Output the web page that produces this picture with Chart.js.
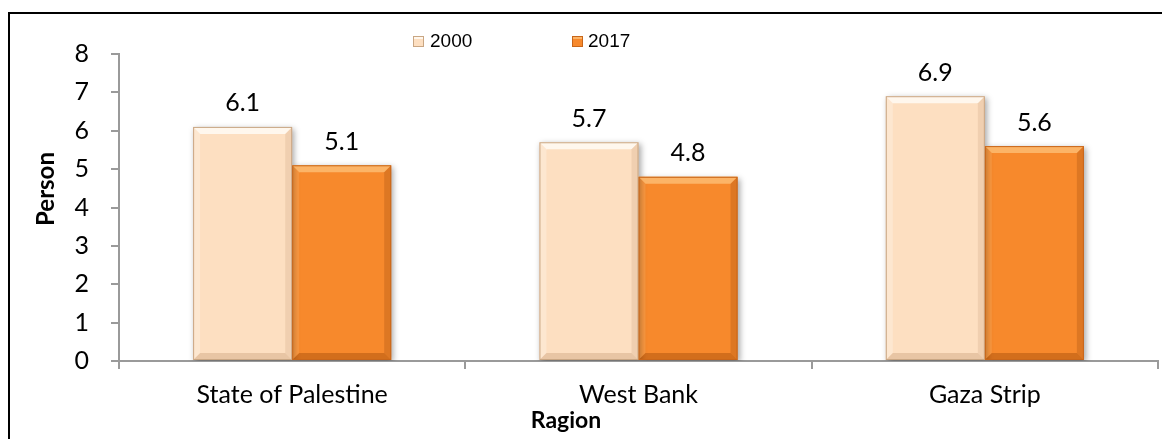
<!DOCTYPE html>
<html>
<head>
<meta charset="utf-8">
<script src="https://cdn.jsdelivr.net/npm/chart.js@4.4.1/dist/chart.umd.min.js"></script>
<style>
  html, body { margin: 0; padding: 0; background: #ffffff; }
  #wrap { width: 1162px; height: 439px; position: relative; }
</style>
</head>
<body>
<div id="wrap"><canvas id="c" width="1162" height="439"></canvas></div>
<script>
const categories = ['State of Palestine', 'West Bank', 'Gaza Strip'];
const seriesLabels = ['2000', '2017'];
const values2000 = [6.1, 5.7, 6.9];
const values2017 = [5.1, 4.8, 5.6];
const yMin = 0, yMax = 8, yStep = 1;
const xTitle = 'Ragion';
const yTitle = 'Person';

const fillColors = ['#FDDFC1', '#F7892C'];
const edgeColors = ['#C9A683', '#C8661A'];
const topBevel = ['rgba(255,250,242,0.9)', 'rgba(252,185,110,0.9)'];
const bottomBevel = ['rgba(170,120,80,0.25)', 'rgba(140,60,0,0.35)'];
const sideLight = ['rgba(255,255,255,0.25)', 'rgba(255,190,120,0.25)'];
const sideDark = ['rgba(150,100,60,0.12)', 'rgba(120,50,0,0.2)'];

const FONT = 'Lato, "Noto Sans", sans-serif';

const framePlugin = {
  id: 'frame',
  beforeDraw(chart) {
    const ctx = chart.ctx;
    ctx.save();
    ctx.fillStyle = '#000';
    ctx.fillRect(8, 12, 1154, 2);
    ctx.fillRect(8, 12, 2, 427);
    ctx.restore();
  }
};

const shadowBevelPlugin = {
  id: 'shadowBevel',
  beforeDatasetsDraw(chart) {
    const ctx = chart.ctx;
    ctx.save();
    ctx.shadowColor = 'rgba(0,0,0,0.35)';
    ctx.shadowBlur = 6;
    ctx.shadowOffsetX = 2;
    ctx.shadowOffsetY = 2;
  },
  afterDatasetsDraw(chart) {
    const ctx = chart.ctx;
    ctx.restore();
    chart.data.datasets.forEach((ds, di) => {
      const meta = chart.getDatasetMeta(di);
      meta.data.forEach((bar, i) => {
        const p = bar.getProps(['x', 'y', 'base', 'width'], true);
        const l = p.x - p.width / 2, r = p.x + p.width / 2, t = p.y, b = p.base;
        const s = 7;
        const poly = (pts, col) => {
          ctx.beginPath();
          ctx.moveTo(pts[0][0], pts[0][1]);
          for (let k = 1; k < pts.length; k++) ctx.lineTo(pts[k][0], pts[k][1]);
          ctx.closePath();
          ctx.fillStyle = col;
          ctx.fill();
        };
        ctx.save();
        poly([[l, t], [r, t], [r - s, t + s], [l + s, t + s]], topBevel[di]);
        poly([[l, t], [l + s, t + s], [l + s, b - s], [l, b]], sideLight[di]);
        poly([[r, t], [r - s, t + s], [r - s, b - s], [r, b]], sideDark[di]);
        poly([[l, b], [l + s, b - s], [r - s, b - s], [r, b]], bottomBevel[di]);
        ctx.strokeStyle = edgeColors[di];
        ctx.lineWidth = 1;
        ctx.strokeRect(l + 0.5, t + 0.5, p.width - 1, b - t - 1);
        // value label
        ctx.fillStyle = '#000';
        ctx.font = '25px ' + FONT;
        ctx.textAlign = 'center';
        ctx.textBaseline = 'bottom';
        ctx.fillText(ds.data[i].toFixed(1), p.x, t - 11);
        ctx.restore();
      });
    });
  }
};

const legendTitlePlugin = {
  id: 'customLegendTitles',
  afterDraw(chart) {
    const ctx = chart.ctx;
    const items = [{ bx: 413, tx: 430 }, { bx: 572, tx: 588 }];
    ctx.save();
    chart.data.datasets.forEach((ds, di) => {
      const it = items[di];
      ctx.fillStyle = fillColors[di];
      ctx.fillRect(it.bx, 36, 11, 11);
      ctx.fillStyle = topBevel[di];
      ctx.fillRect(it.bx, 36, 11, 3);
      ctx.strokeStyle = edgeColors[di];
      ctx.lineWidth = 1;
      ctx.strokeRect(it.bx + 0.5, 36.5, 10, 10);
      ctx.fillStyle = '#000';
      ctx.font = '19px "Liberation Sans", Arial, sans-serif';
      ctx.textAlign = 'left';
      ctx.textBaseline = 'middle';
      ctx.fillText(ds.label, it.tx, 42);
    });
    // axis titles (placed as in the original, off-centre)
    ctx.fillStyle = '#000';
    ctx.font = 'bold 23px ' + FONT;
    ctx.textAlign = 'center';
    ctx.textBaseline = 'middle';
    ctx.fillText(xTitle, 566, 421);
    ctx.save();
    ctx.translate(46, 189);
    ctx.rotate(-Math.PI / 2);
    ctx.font = 'bold 24px ' + FONT;
    ctx.fillText(yTitle, 0, 0);
    ctx.restore();
    ctx.restore();
  }
};

new Chart(document.getElementById('c'), {
  type: 'bar',
  data: {
    labels: categories,
    datasets: [
      { label: seriesLabels[0], data: values2000, backgroundColor: fillColors[0], borderWidth: 0 },
      { label: seriesLabels[1], data: values2017, backgroundColor: fillColors[1], borderWidth: 0 }
    ]
  },
  options: {
    responsive: false,
    animation: false,
    devicePixelRatio: 1,
    layout: { padding: { top: 54, right: 4, left: 0, bottom: 0 } },
    plugins: { legend: { display: false }, tooltip: { enabled: false } },
    datasets: { bar: { barPercentage: 1.0, categoryPercentage: 0.572 } },
    scales: {
      x: {
        offset: true,
        grid: { offset: true, drawOnChartArea: false, drawTicks: true, tickLength: 8, color: '#9A9A9A', lineWidth: 2 },
        border: { color: '#9A9A9A', width: 2 },
        ticks: { color: '#000', font: { family: FONT, size: 25 }, padding: 11, maxRotation: 0 },
        afterFit(scale) { scale.height = 78; }
      },
      y: {
        min: yMin, max: yMax,
        grid: { drawOnChartArea: false, drawTicks: true, tickLength: 8, color: '#9A9A9A', lineWidth: 2 },
        border: { color: '#9A9A9A', width: 2 },
        ticks: { stepSize: yStep, color: '#000', font: { family: FONT, size: 25 }, padding: 22 },
        afterFit(scale) { scale.width = 119; }
      }
    }
  },
  plugins: [framePlugin, shadowBevelPlugin, legendTitlePlugin]
});
</script>
</body>
</html>
